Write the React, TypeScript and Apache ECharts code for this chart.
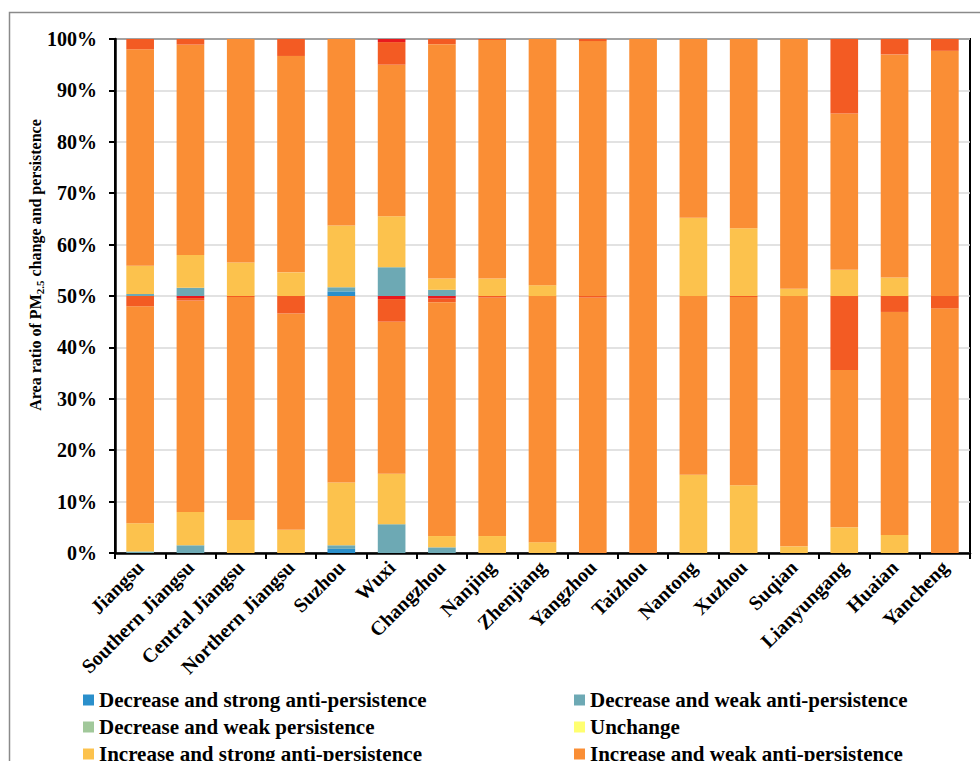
import React, { useEffect, useRef } from "react";
import * as echarts from "echarts";

const categories = [
  "Jiangsu", "Southern Jiangsu", "Central Jiangsu", "Northern Jiangsu", "Suzhou", "Wuxi",
  "Changzhou", "Nanjing", "Zhenjiang", "Yangzhou", "Taizhou", "Nantong", "Xuzhou",
  "Suqian", "Lianyungang", "Huaian", "Yancheng",
];

const classNames = [
  "Decrease and strong anti-persistence",
  "Decrease and weak anti-persistence",
  "Decrease and weak persistence",
  "Unchange",
  "Increase and strong anti-persistence",
  "Increase and weak anti-persistence",
  "Increase and weak persistence",
  "Increase and strong persistence",
];

const classColors = ["#2A8FCB", "#6DA9B4", "#A1C89A", "#FFFF70", "#FCC24D", "#FA8E35", "#F35B23", "#E81A1E"];

// Lower half of each bar (first period, 0–50%)
const lowerDSA = [0, 0, 0, 0, 0.8, 0, 0, 0, 0, 0, 0, 0, 0, 0, 0, 0, 0];
const lowerDWA = [0.3, 1.5, 0, 0, 0.7, 5.6, 1.1, 0, 0, 0, 0, 0, 0, 0, 0, 0, 0];
const lowerDWP = [0, 0, 0, 0, 0, 0, 0, 0, 0, 0, 0, 0, 0, 0, 0, 0, 0];
const lowerUN = [0, 0, 0, 0, 0, 0, 0, 0, 0, 0, 0, 0, 0, 0, 0, 0, 0];
const lowerISA = [5.5, 6.5, 6.4, 4.5, 12.2, 9.8, 2.2, 3.3, 2.1, 0, 0, 15.2, 13.2, 1.3, 5.0, 3.5, 0];
const lowerIWA = [42.2, 41.1, 43.4, 42.1, 36.3, 29.6, 45.5, 46.4, 47.9, 49.7, 50, 34.8, 36.6, 48.7, 30.6, 43.4, 47.6];
const lowerIWP = [2.0, 0.5, 0.2, 3.4, 0, 4.4, 0.7, 0.3, 0, 0.3, 0, 0, 0.2, 0, 14.4, 3.1, 2.4];
const lowerISP = [0, 0.4, 0, 0, 0, 0.6, 0.5, 0, 0, 0, 0, 0, 0, 0, 0, 0, 0];

// Upper half of each bar (second period, 50–100%)
const upperDSA = [0, 0, 0, 0, 0.9, 0, 0, 0, 0, 0, 0, 0, 0, 0, 0, 0, 0];
const upperDWA = [0.4, 1.6, 0, 0, 0.8, 5.6, 1.2, 0, 0, 0, 0, 0, 0, 0, 0, 0, 0];
const upperDWP = [0, 0, 0, 0, 0, 0, 0, 0, 0, 0, 0, 0, 0, 0, 0, 0, 0];
const upperUN = [0, 0, 0, 0, 0, 0, 0, 0, 0, 0, 0, 0, 0, 0, 0, 0, 0];
const upperISA = [5.5, 6.4, 6.5, 4.6, 12.0, 9.9, 2.2, 3.4, 2.1, 0, 0, 15.2, 13.2, 1.4, 5.1, 3.6, 0];
const upperIWA = [42.1, 40.9, 43.5, 42.1, 36.3, 29.5, 45.6, 46.4, 47.9, 49.6, 50, 34.8, 36.8, 48.6, 30.4, 43.4, 47.7];
const upperIWP = [2.0, 1.1, 0, 3.3, 0, 4.4, 1.0, 0.2, 0, 0.4, 0, 0, 0, 0, 14.5, 3.0, 2.3];
const upperISP = [0, 0, 0, 0, 0, 0.6, 0, 0, 0, 0, 0, 0, 0, 0, 0, 0, 0];

const lowerData = [lowerDSA, lowerDWA, lowerDWP, lowerUN, lowerISA, lowerIWA, lowerIWP, lowerISP];
const upperData = [upperDSA, upperDWA, upperDWP, upperUN, upperISA, upperIWA, upperIWP, upperISP];

const yTicks = [0, 10, 20, 30, 40, 50, 60, 70, 80, 90, 100];

const FONT = "'Liberation Serif', 'Times New Roman', serif";
const CHART_H = 830;

export default function App() {
  const ref = useRef<HTMLDivElement>(null);
  useEffect(() => {
    if (!ref.current) return;
    const chart = echarts.init(ref.current, null, { renderer: "svg" });
    const mk = (data: number[][], suffix: string) =>
      data.map((vals, i) => ({
        id: classNames[i] + suffix,
        name: classNames[i],
        type: "bar",
        stack: "total",
        barWidth: "55%",
        data: vals,
        itemStyle: { color: classColors[i] },
        emphasis: { disabled: true },
      }));
    const legendBase = {
      orient: "vertical",
      icon: "rect",
      itemWidth: 11,
      itemHeight: 11,
      itemGap: 5,
      height: 140,
      selectedMode: false,
      textStyle: { fontFamily: FONT, fontWeight: "bold", fontSize: 21, color: "#000", lineHeight: 22 },
    };
    chart.setOption({
      animation: false,
      graphic: [
        {
          type: "rect",
          shape: { x: 9.5, y: 12.5, width: 1100, height: 1100 },
          style: { fill: "none", stroke: "#8a8a8a", lineWidth: 1.5 },
          silent: true,
          z: -1,
        },
        {
          type: "text",
          x: 35,
          y: 265,
          rotation: Math.PI / 2,
          silent: true,
          style: {
            text: "{a|Area ratio of PM}{s|2.5}{a| change and persistence}",
            align: "center",
            verticalAlign: "middle",
            rich: {
              a: { fontFamily: FONT, fontWeight: "bold", fontSize: 16, fill: "#000", lineHeight: 20, verticalAlign: "middle" },
              s: { fontFamily: FONT, fontWeight: "bold", fontSize: 11, fill: "#000", lineHeight: 20, verticalAlign: "bottom", padding: [7, 0, 0, 0] },
            },
          },
        },
      ],
      grid: {
        left: 115,
        right: 10,
        top: 39,
        bottom: CHART_H - 553,
        show: true,
        borderColor: "#000",
        borderWidth: 2,
      },
      legend: [
        { ...legendBase, left: 78, top: 684, data: [classNames[0], classNames[2], classNames[4], classNames[6]] },
        { ...legendBase, left: 569, top: 684, data: [classNames[1], classNames[3], classNames[5], classNames[7]] },
      ],
      xAxis: {
        type: "category",
        data: categories,
        axisLine: { lineStyle: { color: "#000", width: 2.5 } },
        axisTick: { show: true, length: 6, lineStyle: { color: "#000", width: 2 } },
        axisLabel: {
          rotate: 45,
          interval: 0,
          margin: 11,
          fontFamily: FONT,
          fontWeight: "bold",
          fontSize: 20,
          color: "#000",
        },
      },
      yAxis: {
        type: "value",
        min: 0,
        max: 100,
        interval: 10,
        axisLine: { show: true, lineStyle: { color: "#000", width: 2.5 } },
        axisTick: { show: true, length: 6, lineStyle: { color: "#000", width: 2 } },
        splitLine: { lineStyle: { color: "#d9d9d9", width: 1.5 } },
        axisLabel: {
          margin: 18,
          fontFamily: FONT,
          fontWeight: "bold",
          fontSize: 20,
          color: "#000",
          formatter: (v: number) => (yTicks.includes(v) ? v + "%" : ""),
        },
      },
      series: [...mk(lowerData, "-lower"), ...mk(upperData, "-upper")],
    });
    return () => chart.dispose();
  }, []);
  return (
    <div style={{ position: "absolute", left: 0, top: 0, width: 980, height: 761, overflow: "hidden", background: "#fff" }}>
      <div ref={ref} style={{ width: 980, height: CHART_H }} />
    </div>
  );
}
